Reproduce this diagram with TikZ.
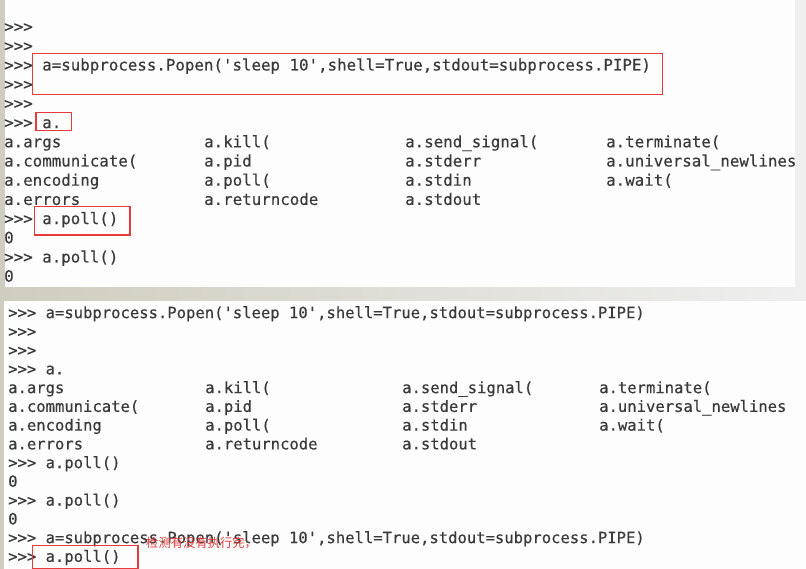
\documentclass[tikz,border=0pt]{standalone}
\usepackage{fontspec}
\setmonofont[FakeBold=0.4]{DejaVu Sans Mono}
\newfontfamily\cjkfont{Noto Sans CJK SC}
\definecolor{termtext}{HTML}{3A3A3A}
\definecolor{boxred}{HTML}{E63B3B}
\definecolor{paper}{HTML}{FDFDFD}
\definecolor{edgegray}{HTML}{EFEFEF}
\definecolor{leftgray}{HTML}{CFCDBF}
\tikzset{
  tline/.style={anchor=base west, inner sep=0pt, text=termtext, font=\fontsize{15.8}{16}\selectfont\ttfamily},
  bline/.style={anchor=base west, inner sep=0pt, text=termtext, font=\fontsize{15.55}{16}\selectfont\ttfamily},
  redbox/.style={draw=boxred, line width=1.3pt},
  note/.style={anchor=west, inner sep=0pt, text=boxred, font=\cjkfont\fontsize{12.3}{13}\selectfont},
}
\begin{document}
\begin{tikzpicture}[x=1pt,y=-1pt]
\useasboundingbox (0,0) rectangle (806,569);
% backgrounds
\fill[edgegray] (0,0) rectangle (806,569);
\shade[left color=leftgray, right color=edgegray] (0,286.7) rectangle (806,301);
\fill[leftgray] (0,0) rectangle (4.5,569);
\fill[paper] (4.5,0) rectangle (795,286.7);
\fill[paper] (4,301) rectangle (806,569);

% ---------- top panel ----------
\node[tline] (t0) at (4,32.1) {>>>};
\node[tline] (t1) at (4,51.3) {>>>};
\node[tline] (t2) at (4,70.5) {>>> a=subprocess.Popen('sleep 10',shell=True,stdout=subprocess.PIPE)};
\node[tline] (t3) at (4,89.7) {>>>};
\node[tline] (t4) at (4,108.9) {>>>};
\node[tline] (t5) at (4,128.1) {>>> a.};
\node[tline] (t6a) at (4,147.3) {a.args};
\node[tline] (t6b) at (204,147.3) {a.kill(};
\node[tline] (t6c) at (405,147.3) {a.send\_signal(};
\node[tline] (t6d) at (606,147.3) {a.terminate(};
\node[tline] (t7a) at (4,166.5) {a.communicate(};
\node[tline] (t7b) at (204,166.5) {a.pid};
\node[tline] (t7c) at (405,166.5) {a.stderr};
\node[tline] (t7d) at (606,166.5) {a.universal\_newlines};
\node[tline] (t8a) at (4,185.7) {a.encoding};
\node[tline] (t8b) at (204,185.7) {a.poll(};
\node[tline] (t8c) at (405,185.7) {a.stdin};
\node[tline] (t8d) at (606,185.7) {a.wait(};
\node[tline] (t9a) at (4,204.9) {a.errors};
\node[tline] (t9b) at (204,204.9) {a.returncode};
\node[tline] (t9c) at (405,204.9) {a.stdout};
\node[tline] (t10) at (4,224.1) {>>> a.poll()};
\node[tline] (t11) at (4,243.3) {0};
\node[tline] (t12) at (4,262.5) {>>> a.poll()};
\node[tline] (t13) at (4,281.7) {0};
% right strip of top panel covers overflow
\fill[edgegray] (795,0) rectangle (806,286.7);

% red boxes (top)
\draw[redbox] (32.5,53.5) rectangle (662.5,94.5);
\draw[redbox] (36,112.3) rectangle (71.5,130.7);
\draw[redbox] (34.3,206.7) rectangle (130,235);

% ---------- bottom panel ----------
\node[bline] (b0) at (8,318.1) {>>> a=subprocess.Popen('sleep 10',shell=True,stdout=subprocess.PIPE)};
\node[bline] (b1) at (8,336.85) {>>>};
\node[bline] (b2) at (8,355.6) {>>>};
\node[bline] (b3) at (8,374.35) {>>> a.};
\node[bline] (b4a) at (8,393.1) {a.args};
\node[bline] (b4b) at (205,393.1) {a.kill(};
\node[bline] (b4c) at (402,393.1) {a.send\_signal(};
\node[bline] (b4d) at (599,393.1) {a.terminate(};
\node[bline] (b5a) at (8,411.85) {a.communicate(};
\node[bline] (b5b) at (205,411.85) {a.pid};
\node[bline] (b5c) at (402,411.85) {a.stderr};
\node[bline] (b5d) at (599,411.85) {a.universal\_newlines};
\node[bline] (b6a) at (8,430.6) {a.encoding};
\node[bline] (b6b) at (205,430.6) {a.poll(};
\node[bline] (b6c) at (402,430.6) {a.stdin};
\node[bline] (b6d) at (599,430.6) {a.wait(};
\node[bline] (b7a) at (8,449.35) {a.errors};
\node[bline] (b7b) at (205,449.35) {a.returncode};
\node[bline] (b7c) at (402,449.35) {a.stdout};
\node[bline] (b8) at (8,468.1) {>>> a.poll()};
\node[bline] (b9) at (8,486.85) {0};
\node[bline] (b10) at (8,505.6) {>>> a.poll()};
\node[bline] (b11) at (8,524.35) {0};
\node[bline] (b12) at (8,543.1) {>>> a=subprocess.Popen('sleep 10',shell=True,stdout=subprocess.PIPE)};
\node[bline] (b13) at (8,561.85) {>>> a.poll()};

% red box and note (bottom)
\draw[redbox] (32.3,545.7) rectangle (138,568.3);
\node[note] (n1) at (146,543) {检测有没有执行完，};
\end{tikzpicture}
\end{document}
